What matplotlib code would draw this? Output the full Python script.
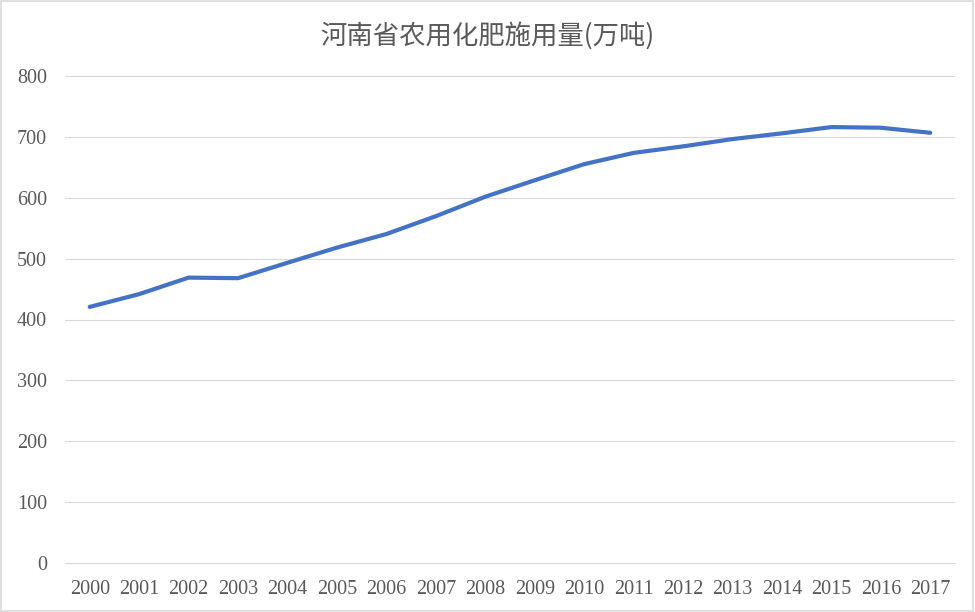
import matplotlib
matplotlib.use("Agg")
import matplotlib.pyplot as plt
from matplotlib.patches import Rectangle

# 数据
years = [str(y) for y in range(2000, 2018)]
fert = [420.7, 441.7, 468.8, 467.9, 493.2, 518.1, 540.4, 569.7, 601.7,
        628.7, 655.2, 673.7, 684.4, 696.4, 705.8, 716.1, 715.0, 706.7]
yticks = [0, 100, 200, 300, 400, 500, 600, 700, 800]

plt.rcParams['font.family'] = ['Noto Sans CJK SC', 'DejaVu Sans']

fig = plt.figure(figsize=(9.75, 6.12), dpi=100)
ax = fig.add_axes([65/975, 1-563/612, 890/975, 487/612])

ax.plot(range(len(years)), fert, color="#4472C4", lw=3,
        solid_joinstyle="round", solid_capstyle="round", zorder=3)

ax.set_xlim(-0.5, len(years) - 0.5)
ax.set_ylim(0, 800)
ax.set_yticks(yticks)
ax.set_xticks(range(len(years)))
ax.set_xticklabels(years)
ax.grid(axis="y", color="#D9D9D9", lw=0.8)
ax.set_axisbelow(True)
for s in ax.spines.values():
    s.set_visible(False)
ax.spines["bottom"].set_visible(True)
ax.spines["bottom"].set_color("#D9D9D9")
ax.tick_params(length=0, colors="#595959")
ax.tick_params(axis="y", pad=13)
ax.tick_params(axis="x", pad=12)
for lab in ax.get_xticklabels() + ax.get_yticklabels():
    lab.set_family(["Liberation Serif", "DejaVu Serif"])
    lab.set_fontsize(14.5)

fig.text(0.5, 1-36/612, "河南省农用化肥施用量(万吨)", ha="center", va="center",
         fontsize=19, color="#595959")

# 外框
fig.patches.append(Rectangle((0.001, 0.002), 0.997, 0.996, transform=fig.transFigure,
                             fill=False, edgecolor="#D9D9D9", lw=1.2))

fig.savefig("out.png", dpi=100)
